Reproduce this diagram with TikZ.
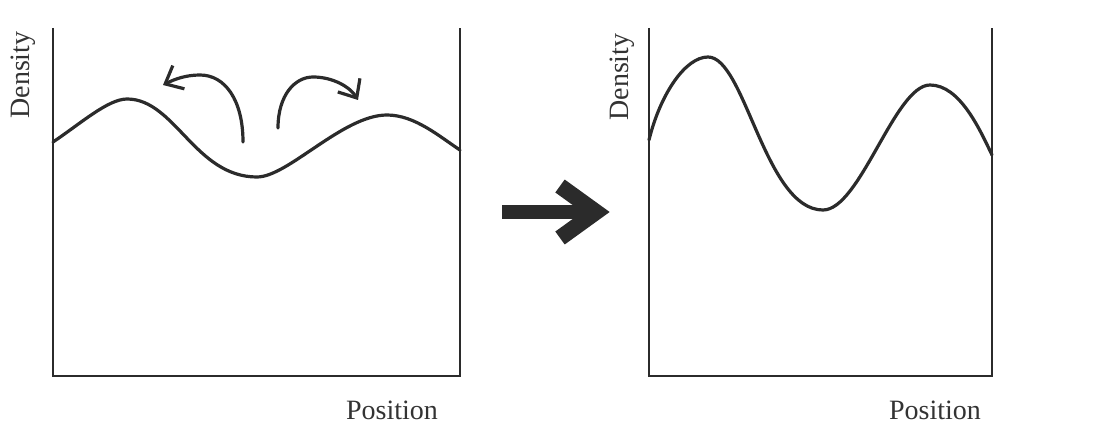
\documentclass[tikz,border=0pt]{standalone}
\usepackage{fontspec}
\setmainfont{Liberation Serif}
\usetikzlibrary{arrows.meta}
\definecolor{ink}{HTML}{2B2B2B}
\definecolor{txt}{HTML}{333333}
\begin{document}
\begin{tikzpicture}[x=0.5pt,y=-0.5pt,
  axisline/.style={draw=ink,line width=1.1pt},
  curveline/.style={draw=ink,line width=1.6pt,line cap=round,line join=round},
  moveline/.style={draw=ink,line width=1.6pt,line cap=round,-{Straight Barb[length=7.5pt,width=13pt,line width=1.6pt]}},
  lbl/.style={text=txt,font=\fontsize{14}{16}\selectfont,inner sep=0pt}]
\useasboundingbox (0,0) rectangle (1096,433);
% left panel
\draw[axisline] (53,28) -- (53,376) -- (460,376) -- (460,28);
\draw[curveline] (53,142) .. controls (80,124) and (108,99) .. (127,99)
  .. controls (175,99) and (195,177) .. (257,177)
  .. controls (288,177) and (343,115) .. (387,115)
  .. controls (415,115) and (440,137) .. (460,150);
\node[lbl,rotate=90] (dl) at (23,75) {Density};
\node[lbl] (pl) at (392,410) {Position};
\coordinate (la0) at (243,142);
\coordinate (la1) at (200,75);
\coordinate (la2) at (163,85);
\coordinate (ra0) at (278,128);
\coordinate (ra1) at (313,77);
\coordinate (ra2) at (358,100);
\draw[moveline] (la0) .. controls (243,100) and (225,75) .. (la1) .. controls (186,75) and (175,79) .. (la2);
\draw[moveline] (ra0) .. controls (278,95) and (295,77) .. (ra1) .. controls (333,77) and (350,87) .. (ra2);
% big arrow
\coordinate (b0) at (502,212);
\coordinate (b1) at (596,212);
\draw[draw=ink,line width=7pt] (b0) -- (590,212);
\draw[draw=ink,line width=8pt,line join=miter,miter limit=4] (560,186) -- (b1) -- (560,238);
% right panel
\draw[axisline] (649,28) -- (649,376) -- (992,376) -- (992,28);
\draw[curveline] (649,140) .. controls (660,95) and (685,57) .. (708,57)
  .. controls (745,57) and (765,210) .. (823,210)
  .. controls (860,210) and (895,85) .. (930,85)
  .. controls (960,85) and (980,130) .. (992,155);
\node[lbl,rotate=90] (dr) at (622,77) {Density};
\node[lbl] (pr) at (935,410) {Position};
\end{tikzpicture}
\end{document}
